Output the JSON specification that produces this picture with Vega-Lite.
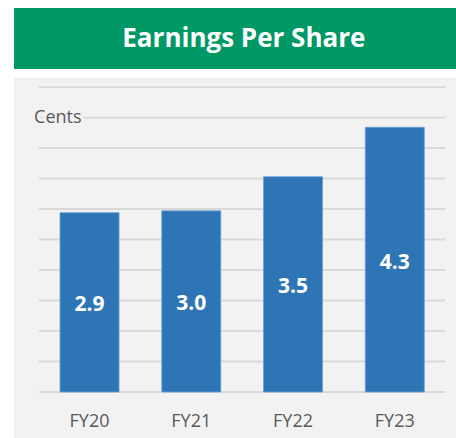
{
  "$schema": "https://vega.github.io/schema/vega-lite/v6.json",
  "background": "white",
  "padding": {"left": 14, "top": 8, "right": 0, "bottom": 0},
  "spacing": 9,
  "config": {"view": {"stroke": null}, "font": "Open Sans"},
  "vconcat": [
    {
      "width": 442,
      "height": 61,
      "view": {"fill": "#009966", "stroke": null},
      "data": {"values": [{"title": "Earnings Per Share"}]},
      "mark": {"type": "text", "color": "white", "fontSize": 26, "fontWeight": "bold", "font": "Open Sans", "baseline": "middle", "align": "center"},
      "encoding": {
        "text": {"field": "title"},
        "x": {"datum": 0.52, "type": "quantitative", "scale": {"domain": [0, 1]}, "axis": null},
        "y": {"datum": 0.5, "type": "quantitative", "scale": {"domain": [0, 1]}, "axis": null}
      }
    },
    {
      "width": 442,
      "height": 360,
      "view": {"fill": "#f2f2f2", "stroke": null},
      "layer": [
        {
          "data": {"values": [{"v": 0}, {"v": 0.5}, {"v": 1}, {"v": 1.5}, {"v": 2}, {"v": 2.5}, {"v": 3}, {"v": 3.5}, {"v": 4}, {"v": 4.5}, {"v": 5}]},
          "mark": {"type": "rule", "color": "#d9d9d9", "strokeWidth": 1.8},
          "encoding": {
            "y": {"field": "v", "type": "quantitative"},
            "x": {"datum": "FY20", "type": "nominal", "bandPosition": -0.356},
            "x2": {"datum": "FY23", "bandPosition": 1.356}
          }
        },
        {
          "data": {"values": [{"label": "Cents"}]},
          "mark": {"type": "text", "fontSize": 18, "align": "left", "baseline": "middle", "color": "#f2f2f2", "stroke": "#f2f2f2", "strokeWidth": 6},
          "encoding": {
            "text": {"field": "label"},
            "y": {"datum": 4.5, "type": "quantitative"},
            "x": {"datum": "FY20", "type": "nominal", "bandPosition": -0.44}
          }
        },
        {
          "data": {"values": [{"label": "Cents"}]},
          "mark": {"type": "text", "fontSize": 18, "align": "left", "baseline": "middle", "color": "#595959"},
          "encoding": {
            "text": {"field": "label"},
            "y": {"datum": 4.5, "type": "quantitative"},
            "x": {"datum": "FY20", "type": "nominal", "bandPosition": -0.44}
          }
        },
        {
          "data": {"values": [{"year": "FY20", "eps": 2.94}, {"year": "FY21", "eps": 2.97}, {"year": "FY22", "eps": 3.53}, {"year": "FY23", "eps": 4.34}]},
          "layer": [
            {
              "mark": {"type": "bar", "color": "#2e75b6", "stroke": "#6a9fd4", "strokeWidth": 0.8},
              "encoding": {
                "x": {
                  "field": "year", "type": "nominal", "sort": null,
                  "scale": {"domain": ["FY20", "FY21", "FY22", "FY23"], "paddingInner": 0.42, "paddingOuter": 0.382, "align": 0.592},
                  "axis": {"orient": "bottom", "offset": -46, "bandPosition": 0.5, "domain": false, "ticks": false, "labelAngle": 0, "labelAlign": "center", "labelFontSize": 18, "labelColor": "#595959", "labelBaseline": "middle", "labelPadding": 29, "title": null, "grid": false}
                },
                "y": {"field": "eps", "type": "quantitative", "scale": {"domain": [-0.754, 5.148], "nice": false, "zero": false}, "axis": null},
                "y2": {"datum": 0}
              }
            },
            {
              "mark": {"type": "text", "color": "white", "fontWeight": "bold", "fontSize": 21, "baseline": "middle", "dy": 3},
              "encoding": {
                "x": {"field": "year", "type": "nominal", "sort": null},
                "y": {"field": "eps", "type": "quantitative", "stack": "zero", "bandPosition": 0.5},
                "text": {"field": "eps", "type": "quantitative", "format": ".1f"}
              }
            }
          ]
        }
      ]
    }
  ]
}
